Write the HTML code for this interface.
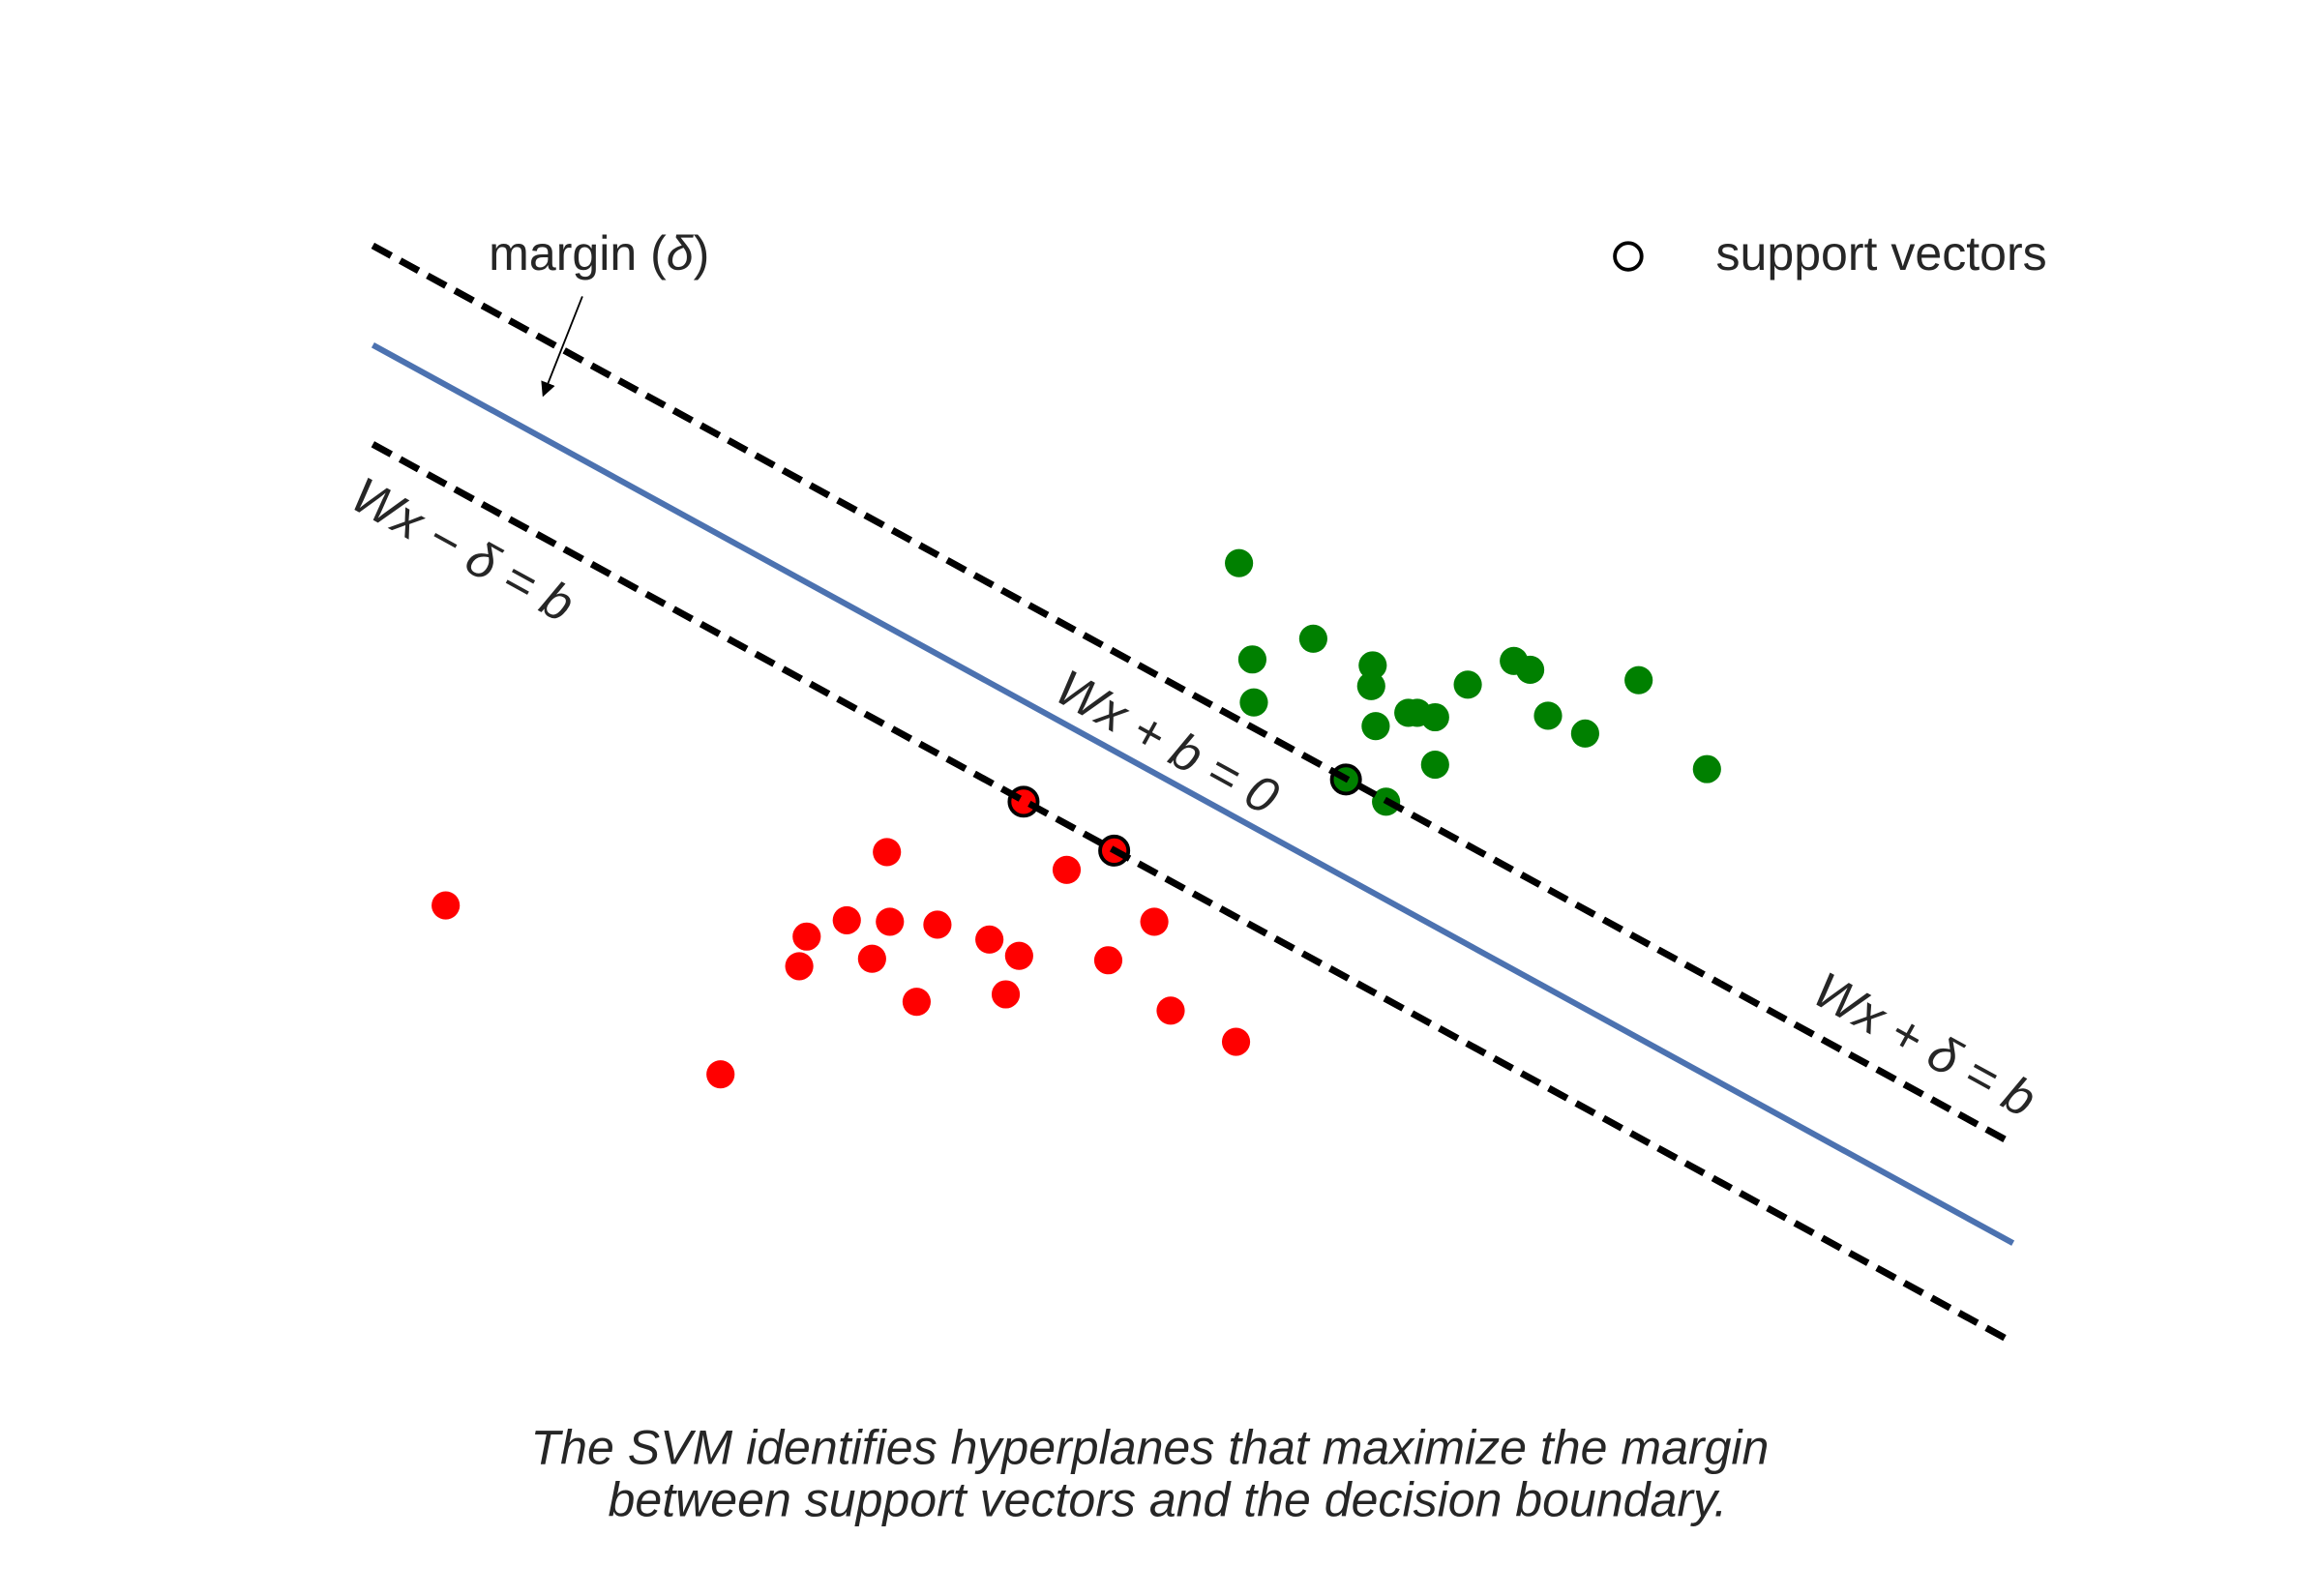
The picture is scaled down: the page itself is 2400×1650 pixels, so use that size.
<!DOCTYPE html>
<html><head><meta charset="utf-8"><style>
html,body{margin:0;padding:0;background:#fff;}
svg{display:block;}
text{font-family:"Liberation Sans",sans-serif;fill:#262626;}
</style></head><body>
<svg id="chart" width="2400" height="1650" viewBox="0 0 1563 1077" preserveAspectRatio="none" xmlns="http://www.w3.org/2000/svg">
<defs><marker id="ah" markerWidth="10" markerHeight="10" refX="8" refY="5" orient="auto" markerUnits="userSpaceOnUse"><path d="M0,0 L10,5 L0,10 z" fill="#000"/></marker></defs>
<g id="lines"></g>
<g id="pts"></g>
<text x="329" y="182" font-size="32.6">margin (<tspan font-style="italic">δ</tspan>)</text>
<line x1="392" y1="200" x2="366" y2="266" stroke="#000" stroke-width="1.2" marker-end="url(#ah)"/>
<circle cx="1096" cy="173" r="9" fill="none" stroke="#000" stroke-width="2.5"/>
<text x="1155" y="182" font-size="32.6">support vectors</text>
<text font-size="34" font-style="italic" text-anchor="middle" transform="translate(780,511) rotate(28.8)">Wx + b = 0</text>
<text font-size="34" font-style="italic" text-anchor="middle" transform="translate(306,381) rotate(28.8)">Wx − δ = b</text>
<text font-size="34" font-style="italic" text-anchor="middle" transform="translate(1290,715) rotate(28.8)">Wx + δ = b</text>
<text font-size="32.6" font-style="italic" text-anchor="middle"><tspan x="774" y="988">The SVM identifies hyperplanes that maximize the margin</tspan><tspan x="786" y="1023">between support vectors and the decision boundary.</tspan></text>
</svg>
<script>
const lineX = [2.51, 13.55];
const slope = -0.549;
const intercepts = [10.39, 9.72, 9.05];
const lineNames = ['upper-margin-line', 'decision-boundary', 'lower-margin-line'];
const greenX = [8.34,8.43,8.44,8.84,9.24,9.23,9.26,9.48,9.54,9.66,9.66,9.88,10.19,10.30,10.42,10.67,11.03,11.49,9.33];
const greenY = [6.87,6.22,5.93,6.36,6.18,6.04,5.77,5.86,5.86,5.83,5.51,6.05,6.21,6.15,5.84,5.72,6.08,5.48,5.26];
const redX = [3.00,4.85,5.97,7.18,5.43,5.70,5.99,6.31,6.66,6.86,5.38,5.87,6.17,6.77,7.46,7.77,7.88,8.32];
const redY = [4.56,3.42,4.92,4.80,4.35,4.46,4.45,4.43,4.33,4.22,4.15,4.20,3.91,3.96,4.19,4.45,3.85,3.64];
const svX = [9.06, 6.89, 7.50];
const svY = [5.41, 5.26, 4.93];
const svClass = ['green', 'red', 'red'];
const xS = d => d * 100;
const yS = d => 1067 - d * 100;
const NS = 'http://www.w3.org/2000/svg';
const lg = document.getElementById('lines'), pg = document.getElementById('pts');
intercepts.forEach((c, i) => {
  const l = document.createElementNS(NS, 'line');
  
  
  l.setAttribute('x1', xS(lineX[0])); l.setAttribute('y1', yS(slope * lineX[0] + c));
  l.setAttribute('x2', xS(lineX[1])); l.setAttribute('y2', yS(slope * lineX[1] + c));
  if (i === 1) { l.setAttribute('stroke', '#4c72b0'); l.setAttribute('stroke-width', '4'); }
  else { l.setAttribute('stroke', '#000'); l.setAttribute('stroke-width', '4.5'); l.setAttribute('stroke-dasharray', '14,7'); }
  lg.appendChild(l);
});
function dot(x, y, fill, name) {
  const c = document.createElementNS(NS, 'circle');
  
  
  c.setAttribute('cx', xS(x)); c.setAttribute('cy', yS(y)); c.setAttribute('r', 9.5); c.setAttribute('fill', fill);
  pg.appendChild(c);
}
greenX.forEach((x, i) => dot(x, greenY[i], '#008000', 'green-point'));
redX.forEach((x, i) => dot(x, redY[i], '#ff0000', 'red-point'));
svX.forEach((x, i) => {
  dot(x, svY[i], svClass[i] === 'green' ? '#008000' : '#ff0000', 'support-vector-point');
  const c = document.createElementNS(NS, 'circle');
  
  
  c.setAttribute('cx', xS(x)); c.setAttribute('cy', yS(svY[i])); c.setAttribute('r', 9.5);
  c.setAttribute('fill', 'none'); c.setAttribute('stroke', '#000'); c.setAttribute('stroke-width', '2.5');
  pg.appendChild(c);
});
[0, 2].forEach(i => pg.appendChild(lg.children[i].cloneNode()));
</script>
</body></html>
